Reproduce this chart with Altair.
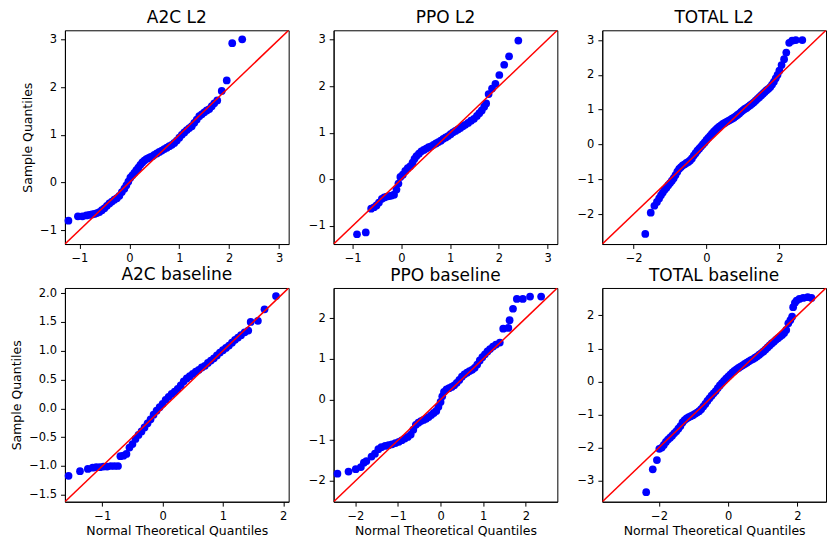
import altair as alt
import pandas as pd

titles = ["A2C L2", "PPO L2", "TOTAL L2", "A2C baseline", "PPO baseline", "TOTAL baseline"]

# axis limits (identical for x and y, 45-degree reference line spans them)
limits = [[-1.29, 3.19], [-1.39, 3.20], [-2.86, 3.28], [-1.62, 2.09], [-2.51, 2.74], [-3.64, 2.83]]

x_ticks = [[-1, 0, 1, 2, 3], [-1, 0, 1, 2, 3], [-2, 0, 2], [-1, 0, 1, 2], [-2, -1, 0, 1, 2], [-2, 0, 2]]
y_ticks = [[-1, 0, 1, 2, 3], [-1, 0, 1, 2, 3], [-2, -1, 0, 1, 2, 3],
           [-1.5, -1.0, -0.5, 0.0, 0.5, 1.0, 1.5, 2.0], [-2, -1, 0, 1, 2], [-3, -2, -1, 0, 1, 2]]
y_formats = ["d", "d", "d", ".1f", "d", "d"]

a2c_l2 = [(-1.22, -0.80), (-1.03, -0.71), (-0.94, -0.71), (-0.86, -0.69), (-0.80, -0.68), (-0.75, -0.67),
          (-0.70, -0.66), (-0.65, -0.64), (-0.60, -0.62), (-0.55, -0.58), (-0.50, -0.54), (-0.45, -0.49),
          (-0.40, -0.44), (-0.35, -0.40), (-0.30, -0.36), (-0.25, -0.33), (-0.20, -0.28), (-0.15, -0.20),
          (-0.10, -0.13), (-0.06, -0.06), (-0.02, 0.02), (0.02, 0.10), (0.06, 0.15), (0.10, 0.20),
          (0.14, 0.26), (0.18, 0.31), (0.22, 0.37), (0.26, 0.42), (0.30, 0.46), (0.34, 0.49), (0.38, 0.51),
          (0.42, 0.53), (0.46, 0.55), (0.50, 0.58), (0.55, 0.61), (0.60, 0.64), (0.65, 0.67), (0.70, 0.70),
          (0.75, 0.73), (0.80, 0.76), (0.85, 0.79), (0.90, 0.83), (0.95, 0.88), (1.00, 0.94), (1.05, 1.00),
          (1.10, 1.05), (1.15, 1.10), (1.20, 1.14), (1.25, 1.18), (1.30, 1.25), (1.35, 1.32), (1.40, 1.39),
          (1.45, 1.43), (1.50, 1.47), (1.55, 1.51), (1.60, 1.54), (1.65, 1.60), (1.70, 1.66), (1.76, 1.72),
          (1.85, 1.92), (1.95, 2.14), (2.06, 2.92), (2.26, 3.00)]

ppo_l2 = [(-0.91, -1.18), (-0.73, -1.14), (-0.62, -0.63), (-0.56, -0.60), (-0.51, -0.56), (-0.46, -0.50),
          (-0.40, -0.42), (-0.35, -0.39), (-0.30, -0.37), (-0.25, -0.36), (-0.20, -0.35), (-0.15, -0.33),
          (-0.10, -0.22), (-0.06, -0.09), (-0.02, 0.05), (0.03, 0.10), (0.08, 0.18), (0.13, 0.24),
          (0.18, 0.28), (0.23, 0.36), (0.27, 0.44), (0.31, 0.50), (0.36, 0.55), (0.41, 0.60), (0.46, 0.63),
          (0.51, 0.66), (0.56, 0.69), (0.61, 0.71), (0.66, 0.74), (0.71, 0.77), (0.76, 0.80), (0.81, 0.83),
          (0.86, 0.87), (0.91, 0.90), (0.96, 0.93), (1.01, 0.97), (1.06, 1.01), (1.11, 1.04), (1.16, 1.07),
          (1.21, 1.10), (1.26, 1.14), (1.31, 1.17), (1.37, 1.21), (1.43, 1.26), (1.49, 1.30), (1.55, 1.36),
          (1.60, 1.42), (1.65, 1.48), (1.70, 1.56), (1.74, 1.63), (1.79, 1.83), (1.86, 1.95), (1.93, 2.05),
          (2.01, 2.24), (2.11, 2.46), (2.21, 2.64), (2.40, 2.98)]

total_l2 = [(-1.68, -2.57), (-1.53, -1.96), (-1.43, -1.76), (-1.36, -1.65), (-1.30, -1.55), (-1.25, -1.46),
            (-1.20, -1.38), (-1.15, -1.30), (-1.10, -1.24), (-1.05, -1.17), (-1.00, -1.11), (-0.95, -1.04),
            (-0.90, -0.97), (-0.85, -0.88), (-0.80, -0.78), (-0.75, -0.70), (-0.70, -0.65), (-0.65, -0.60),
            (-0.60, -0.57), (-0.55, -0.53), (-0.50, -0.50), (-0.45, -0.46), (-0.40, -0.40), (-0.35, -0.32),
            (-0.30, -0.25), (-0.25, -0.18), (-0.20, -0.12), (-0.15, -0.06), (-0.10, 0.00), (-0.05, 0.06),
            (0.00, 0.13), (0.05, 0.19), (0.10, 0.25), (0.15, 0.31), (0.20, 0.37), (0.25, 0.42), (0.30, 0.47),
            (0.35, 0.51), (0.40, 0.55), (0.45, 0.59), (0.50, 0.62), (0.55, 0.65), (0.60, 0.68), (0.65, 0.71),
            (0.70, 0.74), (0.75, 0.77), (0.80, 0.81), (0.85, 0.85), (0.90, 0.89), (0.95, 0.94), (1.00, 0.98),
            (1.05, 1.02), (1.10, 1.05), (1.15, 1.09), (1.20, 1.13), (1.25, 1.17), (1.30, 1.21), (1.35, 1.26),
            (1.40, 1.31), (1.45, 1.36), (1.50, 1.41), (1.55, 1.46), (1.60, 1.51), (1.65, 1.56), (1.70, 1.60),
            (1.75, 1.65), (1.80, 1.72), (1.85, 1.80), (1.90, 1.90), (1.95, 2.00), (2.00, 2.12), (2.06, 2.28),
            (2.13, 2.45), (2.19, 2.64), (2.27, 2.92), (2.35, 2.98), (2.45, 3.00), (2.63, 3.00)]

a2c_base = [(-1.56, -1.17), (-1.37, -1.09), (-1.24, -1.05), (-1.16, -1.03), (-1.10, -1.02), (-1.04, -1.02),
            (-0.98, -1.01), (-0.92, -1.01), (-0.86, -1.00), (-0.80, -1.00), (-0.74, -1.00), (-0.70, -0.83),
            (-0.65, -0.82), (-0.60, -0.79), (-0.55, -0.68), (-0.50, -0.62), (-0.45, -0.53), (-0.40, -0.46),
            (-0.35, -0.40), (-0.30, -0.33), (-0.25, -0.26), (-0.20, -0.19), (-0.15, -0.11), (-0.10, -0.04),
            (-0.05, 0.02), (0.00, 0.08), (0.05, 0.15), (0.10, 0.20), (0.15, 0.25), (0.20, 0.29), (0.25, 0.34),
            (0.30, 0.40), (0.35, 0.47), (0.40, 0.52), (0.45, 0.56), (0.50, 0.60), (0.55, 0.64), (0.60, 0.67),
            (0.65, 0.71), (0.70, 0.74), (0.75, 0.79), (0.80, 0.83), (0.85, 0.87), (0.90, 0.92), (0.95, 0.97),
            (1.00, 1.01), (1.05, 1.05), (1.10, 1.09), (1.15, 1.14), (1.20, 1.19), (1.25, 1.23), (1.30, 1.27),
            (1.36, 1.32), (1.42, 1.35), (1.46, 1.50), (1.58, 1.52), (1.69, 1.72), (1.88, 1.95)]

ppo_base = [(-2.42, -1.82), (-2.16, -1.77), (-1.99, -1.71), (-1.87, -1.66), (-1.80, -1.55), (-1.74, -1.51),
            (-1.62, -1.40), (-1.54, -1.33), (-1.46, -1.22), (-1.39, -1.17), (-1.30, -1.14), (-1.22, -1.12),
            (-1.14, -1.10), (-1.06, -1.07), (-0.98, -1.04), (-0.91, -1.00), (-0.84, -0.96), (-0.77, -0.92),
            (-0.70, -0.86), (-0.64, -0.74), (-0.58, -0.62), (-0.52, -0.57), (-0.46, -0.53), (-0.40, -0.50),
            (-0.34, -0.47), (-0.28, -0.43), (-0.22, -0.38), (-0.16, -0.33), (-0.10, -0.28), (-0.05, -0.18),
            (0.00, -0.06), (0.04, 0.08), (0.08, 0.19), (0.14, 0.25), (0.20, 0.28), (0.26, 0.31), (0.32, 0.35),
            (0.38, 0.41), (0.44, 0.48), (0.50, 0.56), (0.56, 0.62), (0.62, 0.66), (0.68, 0.70), (0.74, 0.73),
            (0.80, 0.78), (0.86, 0.86), (0.92, 0.96), (0.98, 1.04), (1.04, 1.11), (1.10, 1.18), (1.16, 1.24),
            (1.23, 1.30), (1.30, 1.35), (1.39, 1.40), (1.47, 1.74), (1.59, 1.76), (1.62, 1.95), (1.70, 2.23),
            (1.79, 2.47), (1.93, 2.47), (2.10, 2.53), (2.36, 2.53)]

total_base = [(-2.37, -3.35), (-2.18, -2.66), (-2.06, -2.38), (-1.99, -2.04), (-1.92, -2.00), (-1.86, -1.92),
              (-1.80, -1.83), (-1.74, -1.76), (-1.68, -1.70), (-1.62, -1.64), (-1.56, -1.57), (-1.50, -1.51),
              (-1.44, -1.43), (-1.38, -1.35), (-1.32, -1.24), (-1.26, -1.17), (-1.20, -1.12), (-1.14, -1.08),
              (-1.08, -1.05), (-1.02, -1.02), (-0.96, -0.98), (-0.90, -0.94), (-0.84, -0.90), (-0.78, -0.84),
              (-0.72, -0.76), (-0.66, -0.68), (-0.60, -0.59), (-0.54, -0.51), (-0.48, -0.43), (-0.42, -0.36),
              (-0.36, -0.29), (-0.30, -0.20), (-0.24, -0.12), (-0.18, -0.05), (-0.12, 0.02), (-0.06, 0.09),
              (0.00, 0.15), (0.06, 0.21), (0.12, 0.27), (0.18, 0.32), (0.24, 0.37), (0.30, 0.41), (0.36, 0.45),
              (0.42, 0.49), (0.48, 0.53), (0.54, 0.57), (0.60, 0.61), (0.66, 0.65), (0.72, 0.68), (0.78, 0.72),
              (0.84, 0.76), (0.90, 0.81), (0.96, 0.86), (1.02, 0.91), (1.08, 0.97), (1.14, 1.03), (1.20, 1.09),
              (1.26, 1.15), (1.32, 1.20), (1.38, 1.26), (1.44, 1.31), (1.50, 1.36), (1.56, 1.41), (1.62, 1.47),
              (1.68, 1.56), (1.74, 1.76), (1.80, 1.86), (1.85, 1.96), (1.88, 2.25), (1.93, 2.38), (1.98, 2.45),
              (2.06, 2.50), (2.17, 2.53), (2.30, 2.55), (2.41, 2.53)]

series = [a2c_l2, ppo_l2, total_l2, a2c_base, ppo_base, total_base]

FONT = "DejaVu Sans"
W, H = 224, 214


def panel(i):
    pts = pd.DataFrame(series[i], columns=["x", "y"])
    ref = pd.DataFrame({"x": limits[i], "y": limits[i]})
    scale = alt.Scale(domain=limits[i], nice=False, zero=False)
    common = dict(grid=False, tickSize=4.4, labelPadding=4, labelFontSize=11.5, labelColor="black",
                  tickColor="black", domainColor="black", labelFont=FONT, titleFont=FONT,
                  titleFontSize=12.5, titleFontWeight="normal", titleColor="black",
                  labelOverlap=False, labelFlush=False, tickCount=20)
    xa = dict(common, values=x_ticks[i], format="d", titlePadding=3)
    ya = dict(common, values=y_ticks[i], format=y_formats[i], titlePadding=5)
    xa["title"] = "Normal Theoretical Quantiles" if i >= 3 else ""
    ya["title"] = "Sample Quantiles" if i % 3 == 0 else ""
    points = alt.Chart(pts).mark_circle(size=60, color="#0000ff", opacity=1).encode(
        x=alt.X("x:Q", scale=scale, axis=alt.Axis(**xa)),
        y=alt.Y("y:Q", scale=scale, axis=alt.Axis(**ya)),
    )
    line = alt.Chart(ref).mark_line(color="#ff0000", strokeWidth=1.5, clip=True).encode(
        x=alt.X("x:Q", scale=scale),
        y=alt.Y("y:Q", scale=scale),
    )
    return alt.layer(points, line).properties(
        width=W, height=H,
        title=alt.TitleParams(titles[i], fontSize=17, font=FONT, fontWeight="normal",
                              color="black", offset=3, anchor="middle"),
    ).resolve_scale(x="shared", y="shared")


chart = alt.concat(*[panel(i) for i in range(6)], columns=3,
                   spacing={"row": 44, "column": 45}, bounds="flush").resolve_scale(
    x="independent", y="independent"
).properties(
    padding={"left": 2, "top": 0, "right": 0, "bottom": 0},
    background="white",
).configure_view(stroke="black", strokeWidth=1)

chart.save("out.html", embed_options={"renderer": "svg", "actions": False})
